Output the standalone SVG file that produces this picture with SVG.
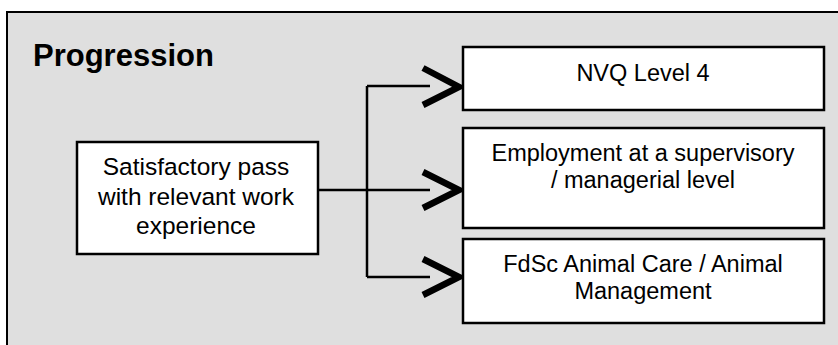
<svg xmlns="http://www.w3.org/2000/svg" width="838" height="345" viewBox="0 0 838 345">
<style>
.box{fill:#fff;stroke:#000;stroke-width:2.5}
.t{font-family:"Liberation Sans",Arial,sans-serif;font-size:23.5px;fill:#000;text-anchor:middle}
.tl{font-size:24.5px}
.ttl{font-family:"Liberation Sans",Arial,sans-serif;font-size:31px;font-weight:bold;fill:#000}
.ln{fill:none;stroke:#000;stroke-width:2.5}
.chev{fill:none;stroke:#000;stroke-width:6.5;stroke-linejoin:miter}
</style>
<rect x="7" y="12" width="845" height="345" fill="#dfdfdf" stroke="#000" stroke-width="2"/>
<text class="ttl" x="33" y="66">Progression</text>
<g id="connectors">
<path class="ln" d="M318 190H430M367 86V277M367 86H430M367 277H430"/>
<polyline class="chev" points="423,68 459,87 423,105"/>
<polyline class="chev" points="423,172 459,190 423,208"/>
<polyline class="chev" points="423,259 459,277 423,295"/>
</g>
<g id="source">
<rect class="box" x="77" y="142" width="241" height="112"/>
<text class="t tl" x="196" y="175">Satisfactory pass</text>
<text class="t tl" x="196" y="205">with relevant work</text>
<text class="t tl" x="196" y="234">experience</text>
</g>
<g id="nvq">
<rect class="box" x="463" y="47" width="361" height="63"/>
<text class="t" x="643" y="81">NVQ Level 4</text>
</g>
<g id="employment">
<rect class="box" x="463" y="128" width="361" height="100"/>
<text class="t" x="643" y="161">Employment at a supervisory</text>
<text class="t" x="643" y="188">/ managerial level</text>
</g>
<g id="fdsc">
<rect class="box" x="463" y="239" width="361" height="84"/>
<text class="t" x="643" y="272">FdSc Animal Care / Animal</text>
<text class="t" x="643" y="299">Management</text>
</g>
</svg>
